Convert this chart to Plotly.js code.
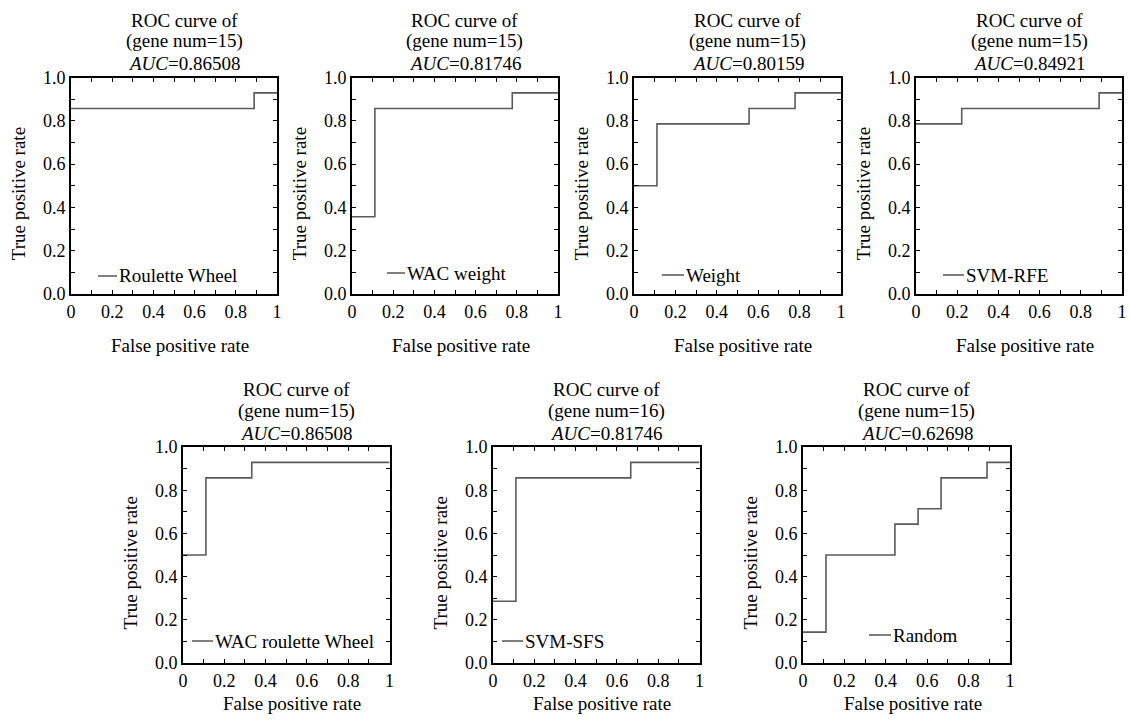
<!DOCTYPE html>
<html>
<head>
<meta charset="utf-8">
<script src="https://cdn.plot.ly/plotly-3.0.1.min.js"></script>
<style>html,body{margin:0;padding:0;background:#fff}#chart{width:1130px;height:725px}</style>
</head>
<body>
<div id="chart"></div>
<script>
// ---------- data ----------
const methods = ["Roulette Wheel", "WAC weight", "Weight", "SVM-RFE", "WAC roulette Wheel", "SVM-SFS", "Random"];
const geneNums = [15, 15, 15, 15, 15, 16, 15];
const aucValues = ["0.86508", "0.81746", "0.80159", "0.84921", "0.86508", "0.81746", "0.62698"];

const fprRouletteWheel = [0, 0.889, 1];
const tprRouletteWheel = [0.857, 0.929, 0.929];
const fprWacWeight = [0, 0.111, 0.778, 1];
const tprWacWeight = [0.357, 0.857, 0.929, 0.929];
const fprWeight = [0, 0.111, 0.556, 0.778, 1];
const tprWeight = [0.5, 0.786, 0.857, 0.929, 0.929];
const fprSvmRfe = [0, 0.222, 0.889, 1];
const tprSvmRfe = [0.786, 0.857, 0.929, 0.929];
const fprWacRoulette = [0, 0.111, 0.333, 1];
const tprWacRoulette = [0.5, 0.857, 0.929, 0.929];
const fprSvmSfs = [0, 0.111, 0.667, 1];
const tprSvmSfs = [0.286, 0.857, 0.929, 0.929];
const fprRandom = [0, 0.111, 0.444, 0.556, 0.667, 0.889, 1];
const tprRandom = [0.143, 0.5, 0.643, 0.714, 0.857, 0.929, 0.929];

const xTickVals = [0, 0.1, 0.2, 0.3, 0.4, 0.5, 0.6, 0.7, 0.8, 0.9, 1];
const xTickText = ["0", "", "0.2", "", "0.4", "", "0.6", "", "0.8", "", "1"];
const yTickVals = [0, 0.1, 0.2, 0.3, 0.4, 0.5, 0.6, 0.7, 0.8, 0.9, 1];
const yTickText = ["0.0", "", "0.2", "", "0.4", "", "0.6", "", "0.8", "", "1.0"];

const fprList = [fprRouletteWheel, fprWacWeight, fprWeight, fprSvmRfe, fprWacRoulette, fprSvmSfs, fprRandom];
const tprList = [tprRouletteWheel, tprWacWeight, tprWeight, tprSvmRfe, tprWacRoulette, tprSvmSfs, tprRandom];

// ---------- layout (pixel boxes of each panel) ----------
const W = 1130, H = 725;
const boxes = [
  [71, 77.5, 277, 294], [352, 77.5, 558, 294], [634, 77.5, 841, 294], [916, 77.5, 1122, 294],
  [183, 447, 389.5, 663], [493, 447, 699.5, 663], [803, 447, 1010, 663]
];
// legend line: [x0 offset from left, x1 offset, y offset above bottom]
const legendPos = [[27, 46, 18], [35, 53, 21], [28, 50, 19], [27, 48, 19], [9, 30, 22], [9, 30, 22], [66, 88, 28]];
const xTitleY = [345, 345, 345, 345, 703, 703, 703];
const titleLineOffsets = [57.3, 36.3, 13.9];

const FONT = "Liberation Serif";
const FS = 19;
const TFS = 18;
const px = x => x / W;
const py = y => 1 - y / H;

const traces = [];
const layout = {
  width: W, height: H,
  margin: {l: 0, r: 0, t: 0, b: 0},
  paper_bgcolor: "#fff", plot_bgcolor: "#fff",
  showlegend: false,
  font: {family: FONT, size: FS, color: "#000"},
  annotations: [], shapes: []
};

boxes.forEach((b, i) => {
  const n = i + 1;
  const xa = "xaxis" + (n === 1 ? "" : n), ya = "yaxis" + (n === 1 ? "" : n);
  const xr = "x" + (n === 1 ? "" : n), yr = "y" + (n === 1 ? "" : n);
  const common = {
    range: [0, 1], showline: true, mirror: "allticks", linewidth: 2, linecolor: "#000",
    ticks: "inside", ticklen: 4, tickwidth: 1, tickcolor: "#000",
    tickmode: "array", showgrid: false, zeroline: false, fixedrange: true,
    tickfont: {family: FONT, size: TFS, color: "#000"}
  };
  layout[xa] = Object.assign({}, common, {domain: [px(b[0]), px(b[2])], anchor: yr, tickvals: xTickVals, ticktext: xTickText});
  layout[ya] = Object.assign({}, common, {domain: [py(b[3]), py(b[1])], anchor: xr, tickvals: yTickVals, ticktext: yTickText});

  traces.push({
    type: "scatter", mode: "lines", x: fprList[i], y: tprList[i], xaxis: xr, yaxis: yr,
    line: {shape: "hv", color: "#5a5a5a", width: 1.6}, name: methods[i], hoverinfo: "skip"
  });

  const cx = (b[0] + b[2]) / 2;
  const cy = (b[1] + b[3]) / 2;
  const top = b[1];
  // title lines
  const titleLines = ["ROC curve of", "(gene num=" + geneNums[i] + ")", "<i>AUC</i>=" + aucValues[i]];
  titleLines.forEach((t, k) => {
    layout.annotations.push({
      xref: "paper", yref: "paper", x: px(cx + 10), y: py(top - titleLineOffsets[k]), xanchor: "center", yanchor: "middle",
      text: t, showarrow: false, borderpad: 0, font: {family: FONT, size: FS, color: "#000"}
    });
  });
  // y title
  layout.annotations.push({
    xref: "paper", yref: "paper", x: px(b[0] - 53), y: py(cy + 8.5), xanchor: "center", yanchor: "middle",
    text: "True positive rate", textangle: -90, showarrow: false, font: {family: FONT, size: FS, color: "#000"}
  });
  // x title
  layout.annotations.push({
    xref: "paper", yref: "paper", x: px(cx + 6), y: py(xTitleY[i]), xanchor: "center", yanchor: "middle",
    text: "False positive rate", showarrow: false, font: {family: FONT, size: FS, color: "#000"}
  });
  // legend entry
  const lp = legendPos[i];
  const ly = b[3] - lp[2];
  layout.shapes.push({
    type: "line", xref: "paper", yref: "paper", x0: px(b[0] + lp[0]), x1: px(b[0] + lp[1]), y0: py(ly), y1: py(ly),
    line: {color: "#000", width: 1}
  });
  const textLeft = b[0] + lp[1] + 1;
  const ann = {
    xref: "paper", yref: "paper", x: px(textLeft), y: py(ly), xanchor: "left", yanchor: "middle",
    text: methods[i], showarrow: false, align: "left", borderpad: 0,
    font: {family: FONT, size: FS, color: "#000"}
  };
  if (i === 4) { ann.width = b[2] - textLeft - 1; }
  layout.annotations.push(ann);
});

Plotly.newPlot("chart", traces, layout, {displayModeBar: false, staticPlot: true});
</script>
</body>
</html>
